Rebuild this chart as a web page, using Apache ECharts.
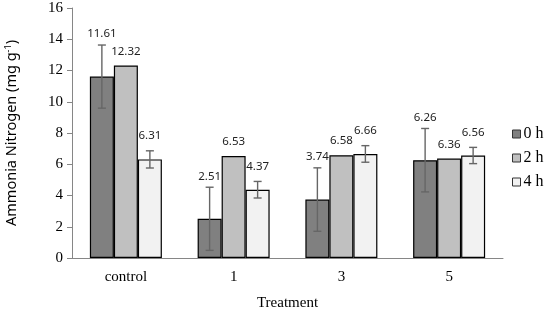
<!DOCTYPE html>
<html>
<head>
<meta charset="utf-8">
<script src="https://cdn.jsdelivr.net/npm/echarts@6/dist/echarts.min.js"></script>
<style>
  html, body { margin: 0; padding: 0; background: #fff; }
  #chart { width: 550px; height: 315px; }
</style>
</head>
<body>
<div id="chart"></div>
<script>
// data
var treatments = ['control', '1', '3', '5'];
var hours = ['0 h', '2 h', '4 h'];
var vals0h = [11.61, 2.51, 3.74, 6.26];
var vals2h = [12.32, 6.53, 6.58, 6.36];
var vals4h = [6.31, 4.37, 6.66, 6.56];
var err0h = [2.02, 2.02, 2.03, 2.03];
var err2h = [0, 0, 0, 0];
var err4h = [0.55, 0.53, 0.53, 0.52];
var yTicks = [0, 2, 4, 6, 8, 10, 12, 14, 16];

var chart = echarts.init(document.getElementById('chart'));

var colors = ['#808080', '#c0c0c0', '#f2f2f2'];
var barW = 24;
var serif = '"Liberation Serif", "DejaVu Serif", serif';
var sans = '"Noto Sans", "Liberation Sans", sans-serif';

// error bar + value label, drawn per group
function errSeries(vals, errs, shift, gap) {
    var data = vals.map(function (v, i) { return [i, v, errs[i]]; });
    return {
        type: 'custom',
        z: 5,
        data: data,
        encode: { x: 0, y: 1 },
        renderItem: function (params, api) {
            var v = api.value(1), e = api.value(2);
            var x = api.coord([api.value(0), v])[0] + shift;
            var top = api.coord([api.value(0), v + e])[1];
            var bot = api.coord([api.value(0), v - e])[1];
            var kids = [];
            var st = { stroke: '#666', lineWidth: 1.4 };
            if (e > 0) {
                kids.push({ type: 'line', shape: { x1: x, y1: top, x2: x, y2: bot }, style: st });
                kids.push({ type: 'line', shape: { x1: x - 4, y1: top, x2: x + 4, y2: top }, style: st });
                kids.push({ type: 'line', shape: { x1: x - 4, y1: bot, x2: x + 4, y2: bot }, style: st });
            }
            kids.push({
                type: 'text',
                style: {
                    x: x, y: top - gap,
                    text: v.toFixed(2),
                    fill: '#222',
                    font: '11.5px ' + sans,
                    align: 'center',
                    verticalAlign: 'bottom'
                }
            });
            return { type: 'group', children: kids };
        }
    };
}

function barSeries(name, vals, color) {
    return {
        name: name,
        type: 'bar',
        data: vals,
        barWidth: barW,
        barGap: '0%',
        itemStyle: { color: color, borderColor: '#000', borderWidth: 1.2 }
    };
}

var option = {
    animation: false,
    grid: { left: 72, right: 47, top: 8, bottom: 57, outerBoundsMode: 'none', containLabel: false },
    legend: {
        orient: 'vertical',
        left: 507,
        top: 121,
        itemWidth: 8,
        itemHeight: 8,
        itemGap: 8,
        icon: 'rect',
        data: hours,
        itemStyle: { borderColor: '#333', borderWidth: 1 },
        textStyle: { fontFamily: serif, fontSize: 16, color: '#000', padding: [0, 0, 0, -2] }
    },
    xAxis: {
        type: 'category',
        data: treatments,
        axisTick: { show: false },
        axisLine: { lineStyle: { color: '#868686', width: 1 } },
        axisLabel: { fontFamily: serif, fontSize: 15, color: '#000', margin: 12 },
        name: 'Treatment',
        nameLocation: 'middle',
        nameGap: 38,
        nameTextStyle: { fontFamily: serif, fontSize: 15, color: '#000' }
    },
    yAxis: {
        type: 'value',
        min: yTicks[0],
        max: yTicks[yTicks.length - 1],
        interval: yTicks[1] - yTicks[0],
        axisLine: { show: true, lineStyle: { color: '#868686', width: 1 } },
        axisTick: { show: true, length: 5, lineStyle: { color: '#868686' } },
        splitLine: { show: false },
        axisLabel: { fontFamily: serif, fontSize: 15, color: '#000', margin: 9 },
        name: 'Ammonia Nitrogen (mg g{sup|-1})',
        nameLocation: 'middle',
        nameGap: 53,
        nameTextStyle: {
            fontFamily: sans, fontSize: 14.5, color: '#000',
            rich: { sup: { fontFamily: sans, fontSize: 9, verticalAlign: 'top', padding: [0, 0, 6, 0] } }
        }
    },
    series: [
        barSeries(hours[0], vals0h, colors[0]),
        barSeries(hours[1], vals2h, colors[1]),
        barSeries(hours[2], vals4h, colors[2]),
        errSeries(vals0h, err0h, -barW, 5),
        errSeries(vals2h, err2h, 0, 8),
        errSeries(vals4h, err4h, barW, 9)
    ]
};

chart.setOption(option);
</script>
</body>
</html>
